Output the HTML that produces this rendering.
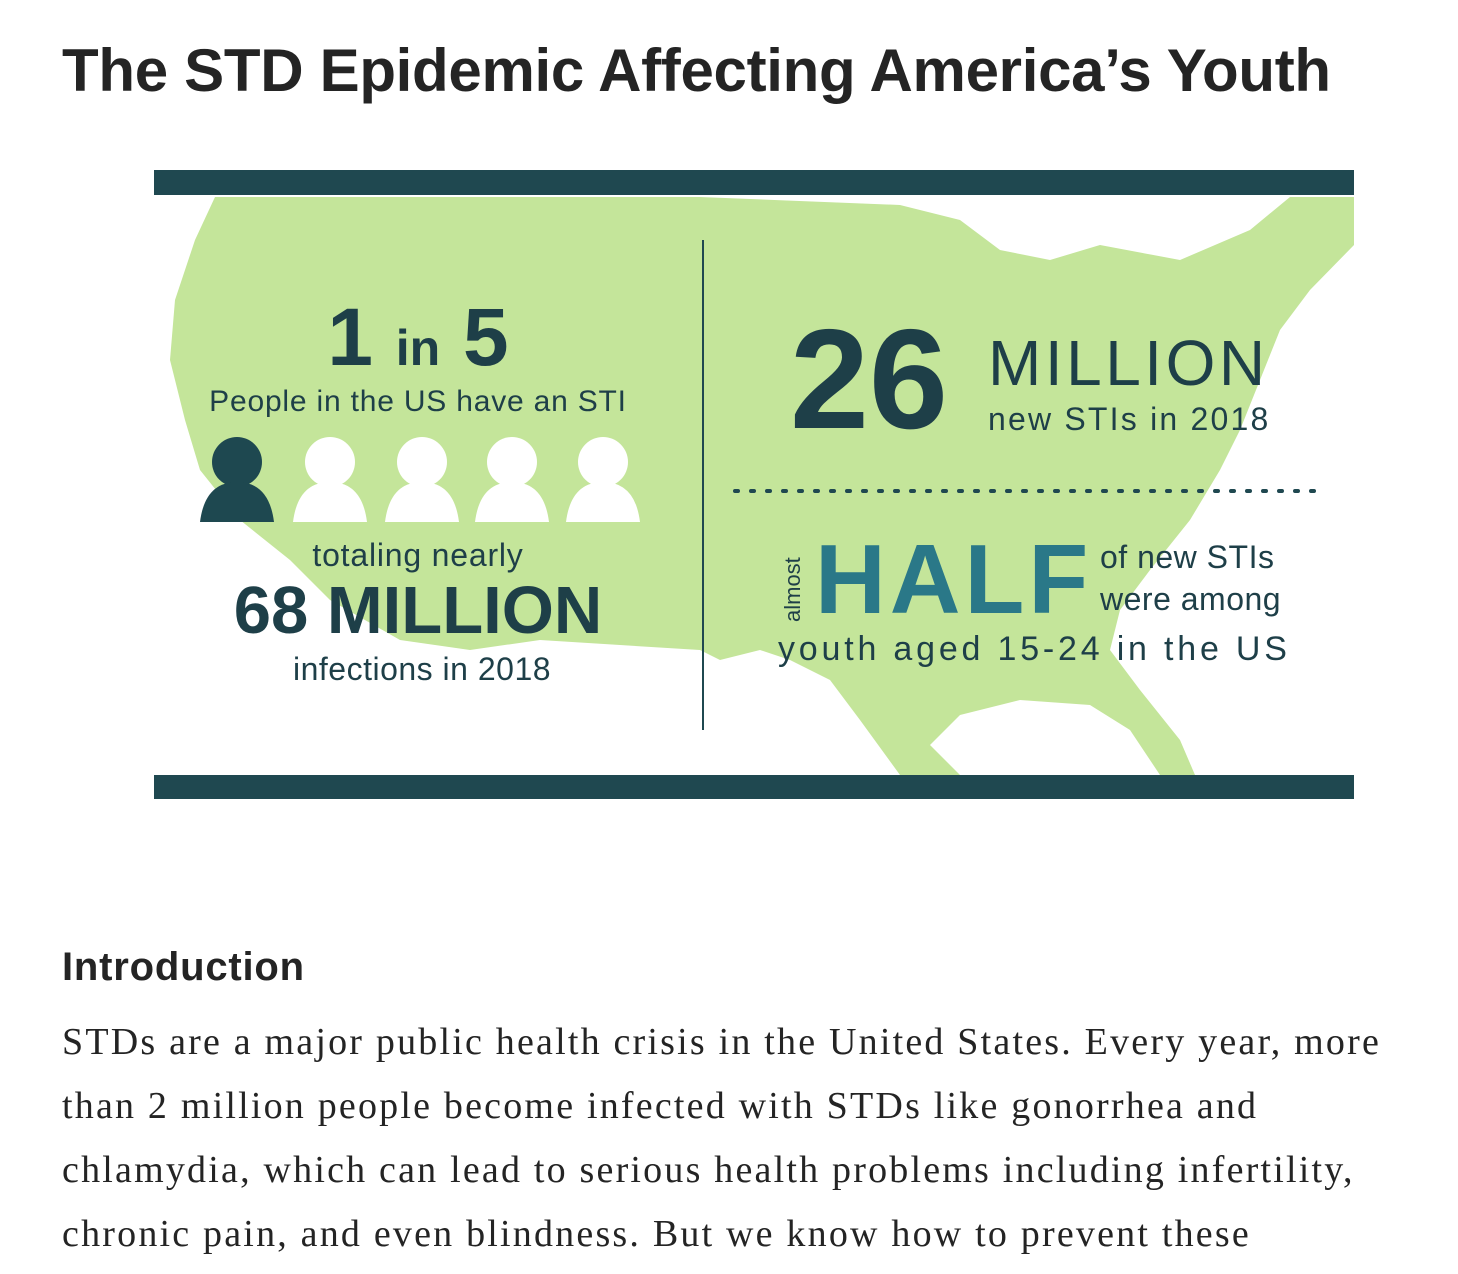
<!DOCTYPE html>
<html><head><meta charset="utf-8"><style>
body{margin:0;width:1458px;height:1274px;background:#fff;overflow:hidden;font-family:"Liberation Sans",sans-serif;position:relative}
.a{position:absolute;white-space:nowrap}
</style></head><body>
<div class="a" style="left:62px;top:36px;font-size:60px;font-weight:bold;letter-spacing:-0.3px;color:#242424">The STD Epidemic Affecting America’s Youth</div>
<svg class="a" style="left:154px;top:170px" width="1200" height="629" viewBox="154 170 1200 629">
<rect x="154" y="170" width="1200" height="629" fill="#fff"/>
<polygon fill="#c4e59a" points="215,197 700,197 900,205 960,220 1000,250 1050,260 1100,245 1180,260 1250,230 1290,197 1354,197 1354,245 1310,290 1280,330 1260,380 1240,430 1220,470 1190,520 1150,570 1120,610 1110,650 1140,690 1180,740 1195,775 1160,775 1130,730 1090,705 1020,700 960,715 930,745 960,775 900,775 860,720 830,680 790,660 760,650 720,660 700,650 620,645 540,640 470,650 400,640 330,600 290,560 240,520 200,470 185,420 170,360 175,300 195,240"/>
<rect x="154" y="170" width="1200" height="25" fill="#1f4850"/>
<rect x="154" y="775" width="1200" height="24" fill="#1f4850"/>
<line x1="703" y1="240" x2="703" y2="730" stroke="#1f4850" stroke-width="2"/>
<line x1="735" y1="491" x2="1325" y2="491" stroke="#1f4850" stroke-width="4" stroke-dasharray="3,13" stroke-linecap="round"/>
<g fill="#1e3f48" font-family="Liberation Sans,sans-serif">
<text x="418" y="365" text-anchor="middle" font-weight="bold" font-size="82">1 <tspan font-size="50">in</tspan> 5</text>
<text x="418" y="411" text-anchor="middle" font-size="30" letter-spacing="0.8">People in the US have an STI</text>
<text x="418" y="566" text-anchor="middle" font-size="32" letter-spacing="0.8">totaling nearly</text>
<text x="418" y="633" text-anchor="middle" font-size="67" font-weight="bold">68 MILLION</text>
<text x="422" y="680" text-anchor="middle" font-size="32" letter-spacing="0.5">infections in 2018</text>
<text x="790" y="428" font-size="142" font-weight="bold">26</text>
<text x="988" y="385" font-size="64" letter-spacing="3.5">MILLION</text>
<text x="988" y="430" font-size="32" letter-spacing="2.2">new STIs in 2018</text>
<text transform="translate(800,622) rotate(-90)" font-size="22">almost</text>
<text x="815" y="613" font-size="98" font-weight="bold" fill="#2a7888" letter-spacing="4">HALF</text>
<text x="1100" y="568" font-size="32" letter-spacing="0.5">of new STIs</text>
<text x="1100" y="610" font-size="32" letter-spacing="0.5">were among</text>
<text x="778" y="660" font-size="34" letter-spacing="3.8">youth aged 15-24 in the US</text>
</g>
<g>
<g fill="#1e4850"><circle cx="237" cy="462" r="25"/><path d="M200,522 Q205,482 237,482 Q269,482 274,522 Z"/></g>
<g fill="#fff"><circle cx="330" cy="462" r="25"/><path d="M293,522 Q298,482 330,482 Q362,482 367,522 Z"/>
<circle cx="422" cy="462" r="25"/><path d="M385,522 Q390,482 422,482 Q454,482 459,522 Z"/>
<circle cx="512" cy="462" r="25"/><path d="M475,522 Q480,482 512,482 Q544,482 549,522 Z"/>
<circle cx="603" cy="462" r="25"/><path d="M566,522 Q571,482 603,482 Q635,482 640,522 Z"/></g>
</g>
</svg>
<div class="a" style="left:62px;top:945px;font-size:40px;font-weight:bold;color:#242424;letter-spacing:0.8px">Introduction</div>
<div class="a" style="left:62px;top:1010px;width:1390px;white-space:nowrap;font-family:'Liberation Serif',serif;font-size:38px;letter-spacing:2.2px;line-height:64px;color:#242424">STDs are a major public health crisis in the United States. Every year, more<br>than 2 million people become infected with STDs like gonorrhea and<br>chlamydia, which can lead to serious health problems including infertility,<br>chronic pain, and even blindness. But we know how to prevent these</div>
</body></html>
